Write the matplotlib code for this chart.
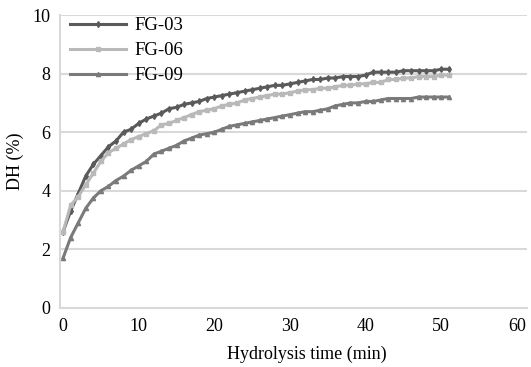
import matplotlib.pyplot as plt
import numpy as np

# hydrolysis time (min)
time = list(range(0, 52))

fg03 = [2.6, 3.3, 3.9, 4.5, 4.9, 5.2, 5.5, 5.7, 6.0, 6.1,
        6.3, 6.45, 6.55, 6.65, 6.8, 6.85, 6.95, 7.0, 7.05, 7.15,
        7.2, 7.25, 7.3, 7.35, 7.4, 7.45, 7.5, 7.55, 7.6, 7.6,
        7.65, 7.7, 7.75, 7.8, 7.8, 7.85, 7.85, 7.9, 7.9, 7.9,
        7.95, 8.05, 8.05, 8.05, 8.05, 8.1, 8.1, 8.1, 8.1, 8.1,
        8.15, 8.15]
fg06 = [2.6, 3.5, 3.8, 4.2, 4.6, 5.0, 5.3, 5.45, 5.6, 5.75,
        5.85, 5.95, 6.05, 6.25, 6.3, 6.4, 6.5, 6.6, 6.7, 6.75,
        6.8, 6.9, 6.95, 7.0, 7.1, 7.15, 7.2, 7.25, 7.3, 7.3,
        7.35, 7.4, 7.45, 7.45, 7.5, 7.5, 7.55, 7.6, 7.6, 7.65,
        7.65, 7.7, 7.7, 7.8, 7.8, 7.85, 7.85, 7.9, 7.9, 7.9,
        7.95, 7.95]
fg09 = [1.7, 2.4, 2.9, 3.4, 3.75, 4.0, 4.15, 4.35, 4.5, 4.7,
        4.85, 5.0, 5.25, 5.35, 5.45, 5.55, 5.7, 5.8, 5.9, 5.95,
        6.0, 6.1, 6.2, 6.25, 6.3, 6.35, 6.4, 6.45, 6.5, 6.55,
        6.6, 6.65, 6.7, 6.7, 6.75, 6.8, 6.9, 6.95, 7.0, 7.0,
        7.05, 7.05, 7.1, 7.15, 7.15, 7.15, 7.15, 7.2, 7.2, 7.2,
        7.2, 7.2]

series = [
    ("FG-03", fg03, "#5a5a5a", "d"),
    ("FG-06", fg06, "#b9b9b9", "s"),
    ("FG-09", fg09, "#7a7a7a", "^"),
]

plt.rcParams['font.family'] = ['Liberation Serif', 'DejaVu Serif']

fig = plt.figure(figsize=(5.31, 3.67), dpi=100)
ax = fig.add_axes([0.113, 0.161, 0.879, 0.798])

for name, vals, col, mk in series:
    ax.plot(time, vals, color=col, lw=2.2, marker=mk, markersize=3,
            label=name)

ax.set_xlim(-0.4, 61.3)
ax.set_ylim(0, 10)
ax.set_xticks([0, 10, 20, 30, 40, 50, 60])
ax.set_yticks([0, 2, 4, 6, 8, 10])
ax.grid(axis='y', color='#d9d9d9', lw=1.5)
ax.set_axisbelow(True)
for s in ['top', 'right']:
    ax.spines[s].set_visible(False)
for s in ['left', 'bottom']:
    ax.spines[s].set_color('#d9d9d9')
    ax.spines[s].set_linewidth(1.5)
ax.tick_params(length=0, labelsize=13, pad=7)
ax.set_xlabel('Hydrolysis time (min)', fontsize=13)
ax.xaxis.set_label_coords(0.529, -0.13)
ax.set_ylabel('DH (%)', fontsize=13, labelpad=6)

ax.legend(loc='upper left', bbox_to_anchor=(0.005, 1.018), frameon=False,
          fontsize=13.5, handlelength=3.0, handletextpad=0.45,
          labelspacing=0.42, borderaxespad=0.0, borderpad=0.4)

fig.savefig('out.png', dpi=100)
